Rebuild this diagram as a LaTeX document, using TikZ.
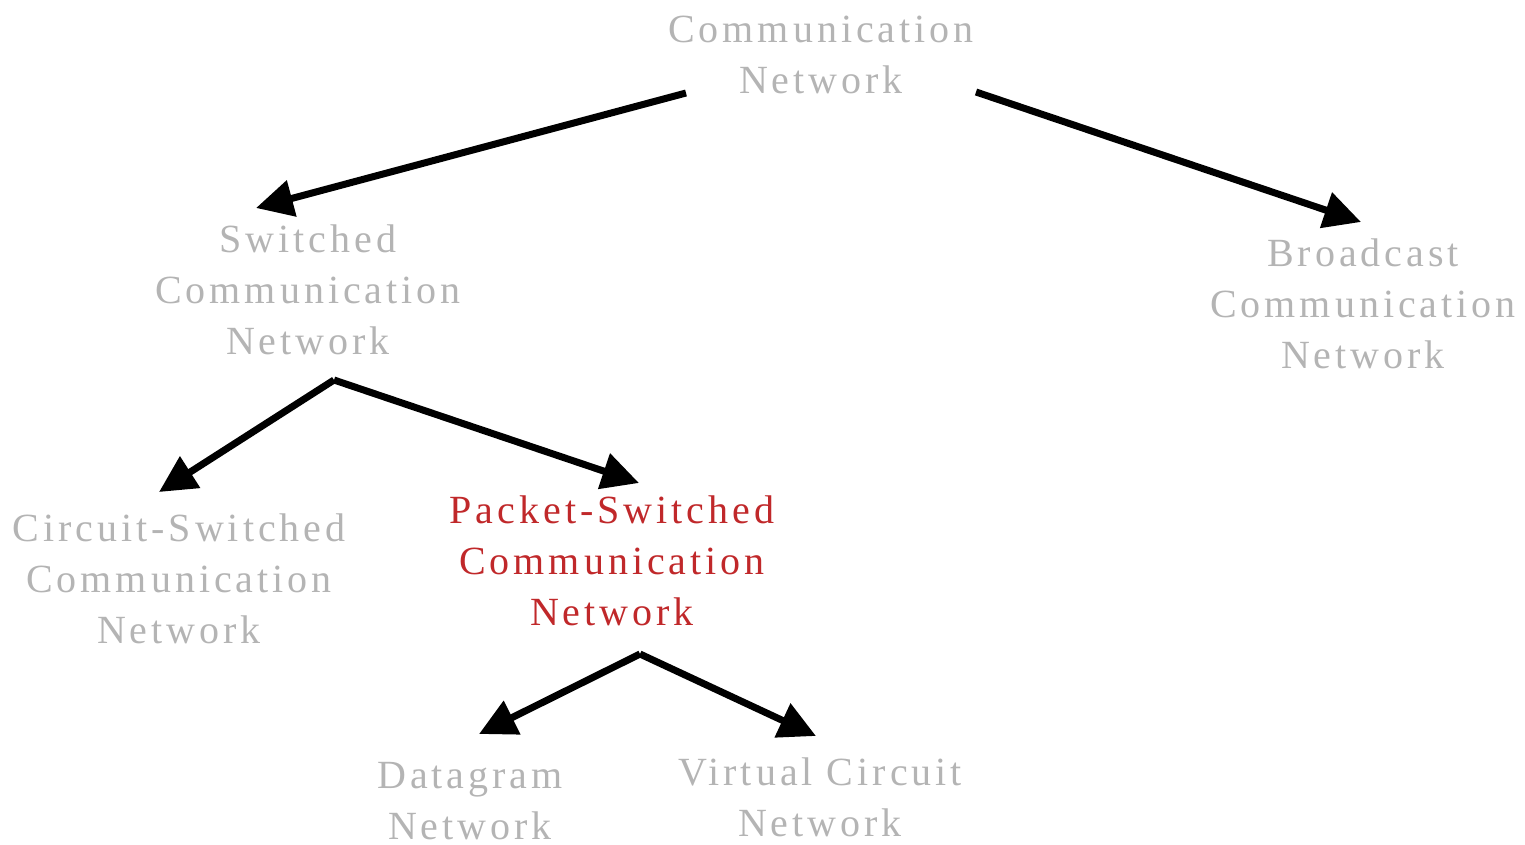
\documentclass[tikz,border=0pt]{standalone}
\usepackage{fontspec}
\setmainfont{Liberation Serif}[LetterSpace=10]
\usetikzlibrary{arrows.meta}
\definecolor{lbl}{RGB}{180,180,180}
\definecolor{hl}{RGB}{192,40,42}
\tikzset{
  lab/.style={align=center, inner sep=0pt, text=lbl, font=\fontsize{40}{51}\selectfont},
  hilab/.style={lab, text=hl},
  arr/.style={line width=7pt, -{Triangle[length=37pt,width=36pt]}}
}
\begin{document}
\begin{tikzpicture}[x=1pt,y=-1pt]
\useasboundingbox (0,0) rectangle (1525,844);
\node[lab] (cn) at (821,55) {Communication\\Network};
\node[lab] (sw) at (308,290) {Switched\\Communication\\Network};
\node[lab] (bc) at (1363,304) {Broadcast\\Communication\\Network};
\node[lab] (cs) at (179,579) {Circuit-Switched\\Communication\\Network};
\node[hilab] (ps) at (612,561) {Packet-Switched\\Communication\\Network};
\node[lab] (dg) at (470,801) {Datagram\\Network};
\node[lab] (vc) at (820,797) {Virtual Circuit\\Network};
\coordinate (cnL) at (686,93);
\coordinate (cnR) at (976,92);
\coordinate (swT) at (256,208);
\coordinate (bcT) at (1361,222);
\coordinate (swB) at (334,380);
\coordinate (csT) at (159,492);
\coordinate (psT) at (639,483);
\coordinate (psB) at (640,654);
\coordinate (dgT) at (479,734);
\coordinate (vcT) at (816,736);
\draw[arr] (cnL) -- (swT);
\draw[arr] (cnR) -- (bcT);
\draw[arr] (swB) -- (csT);
\draw[arr] (swB) -- (psT);
\draw[arr] (psB) -- (dgT);
\draw[arr] (psB) -- (vcT);
\end{tikzpicture}
\end{document}
